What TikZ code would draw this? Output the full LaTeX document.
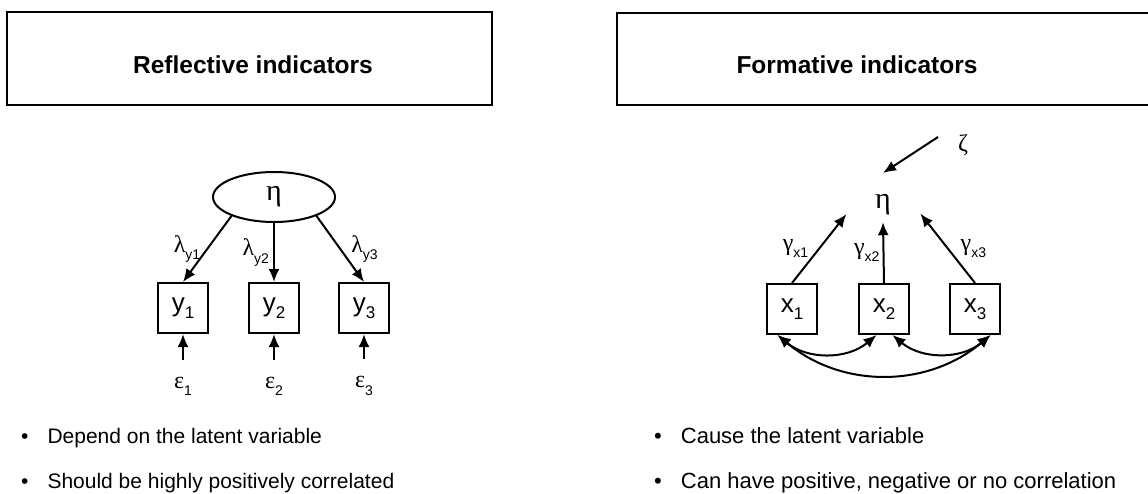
\documentclass[tikz,border=0pt]{standalone}
\usepackage{fontspec}
\setmainfont{Liberation Sans}
\newfontfamily\grk{Liberation Serif}
\usetikzlibrary{arrows.meta,shapes.geometric}
\newcommand{\sbs}[1]{\raisebox{-.3em}{\fontsize{14}{14}\selectfont #1}}
\newcommand{\isub}[1]{\raisebox{-.25em}{\fontsize{17}{17}\selectfont #1}}
\tikzset{
  frame/.style={line width=2pt},
  ttl/.style={font=\fontsize{24.5}{24.5}\selectfont\bfseries},
  ind/.style={draw, line width=2pt, minimum width=50, minimum height=50, inner sep=0pt, font=\fontsize{26}{26}\selectfont},
  lab/.style={font=\fontsize{24}{24}\selectfont, inner sep=0pt},
  arr/.style={-{Latex[length=13pt,width=11pt]}, line width=2pt},
  dbl/.style={{Latex[length=13pt,width=11pt]}-{Latex[length=13pt,width=11pt]}, line width=2pt},
  bul/.style={anchor=base west, inner sep=0pt, font=\fontsize{21}{21}\selectfont}
}
\begin{document}
\begin{tikzpicture}[x=1pt,y=-1pt]
\useasboundingbox (0,0) rectangle (1148,493);

   % title frames
   \draw[frame] (7,12) rectangle (492,105);
   \draw[frame] (617,13) rectangle (1160,105);
   \node[ttl] (t1) at (253,65) {Reflective indicators};
   \node[ttl] (t2) at (857,65) {Formative indicators};

   % reflective
   \node[draw, ellipse, line width=2pt, minimum width=122, minimum height=50, inner sep=0pt, font=\fontsize{30}{30}\selectfont] (eta) at (274,197) {\grk η};
   \node[ind] (y1) at (183,308) {y\isub{1}};
   \node[ind] (y2) at (274,308) {y\isub{2}};
   \node[ind] (y3) at (364,308) {y\isub{3}};
   \node[lab] (e1) at (183,386) {{\grk ε}\sbs{1}};
   \node[lab] (e2) at (274,386) {{\grk ε}\sbs{2}};
   \node[lab] (e3) at (364,386) {{\grk ε}\sbs{3}};

    \draw[arr] (eta.204) -- (y1.north) node[midway,left=6pt,lab] {{\grk λ}\sbs{y1}};
    \draw[arr] (eta.south) -- (y2.north) node[midway,left=4pt,lab] {{\grk λ}\sbs{y2}};
    \draw[arr] (eta.336) -- (y3.north) node[midway,right=10pt,lab] {{\grk λ}\sbs{y3}};
    \draw[arr, shorten <=17pt] (e1) -- (y1);
    \draw[arr, shorten <=17pt] (e2) -- (y2);
    \draw[arr, shorten <=17pt] (e3) -- (y3);

   % formative
   \node[ellipse, minimum width=86, minimum height=34, inner sep=0pt, font=\fontsize{30}{30}\selectfont] (eta2) at (883,205) {\grk η};
   \node[lab] (zeta) at (963,145) {\grk ζ};
   \coordinate (zt) at (938,137);
   \coordinate (zh) at (883,173);
   \node[ind] (x1) at (792,309) {x\isub{1}};
   \node[ind] (x2) at (884,309) {x\isub{2}};
   \node[ind] (x3) at (975,309) {x\isub{3}};

    \draw[arr] (zt) -- (zh);
    \draw[arr] (x1.north) -- (eta2.194) node[midway,left=10pt,lab] {{\grk γ}\sbs{x1}};
    \draw[arr] (x2.north) -- (eta2.south) node[midway,left=3pt,lab] {{\grk γ}\sbs{x2}};
    \draw[arr] (x3.north) -- (eta2.347) node[midway,right=12pt,lab] {{\grk γ}\sbs{x3}};
    \draw[dbl] (x1.241) to[bend right=40] (x2.254);
    \draw[dbl] (x2.288) to[bend right=40] (x3.301);
    \draw[dbl] (x1.241) to[bend right=40] (x3.301);

   % bullets
   \node[bul] (b1) at (21,443) {•\hspace{19pt}Depend on the latent variable};
   \node[bul] (b2) at (21,488) {•\hspace{19pt}Should be highly positively correlated};
   \node[bul, font=\fontsize{22}{22}\selectfont] (b3) at (654,443) {•\hspace{19pt}Cause the latent variable};
   \node[bul, font=\fontsize{22}{22}\selectfont] (b4) at (654,488) {•\hspace{19pt}Can have positive, negative or no correlation};
\end{tikzpicture}
\end{document}
